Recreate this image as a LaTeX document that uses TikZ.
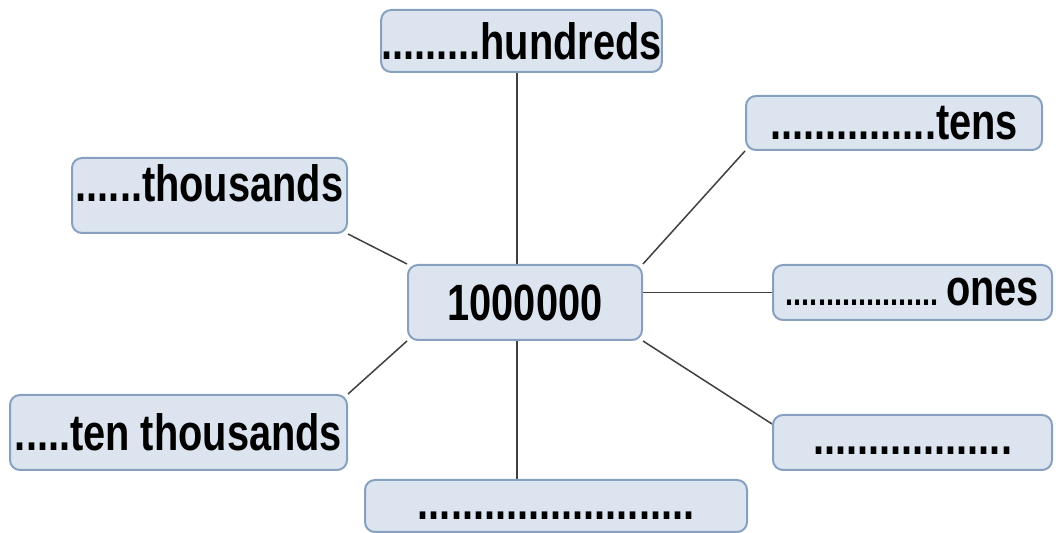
\documentclass[tikz,border=0pt]{standalone}
\usepackage{fontspec}
\setmainfont{Liberation Sans}[FakeStretch=0.78]
\usetikzlibrary{backgrounds}
\definecolor{boxfill}{RGB}{220,229,239}
\definecolor{boxline}{RGB}{135,160,192}
\definecolor{linkgrey}{RGB}{64,64,64}
\begin{document}
\begin{tikzpicture}[x=1pt,y=-1pt,
  box/.style={draw=boxline,fill=boxfill,line width=1pt,rounded corners=5pt,inner sep=0pt,
    font=\fontsize{25.5}{28}\selectfont\bfseries},
  link/.style={draw=linkgrey,line width=0.75pt}]
 \useasboundingbox (0,0) rectangle (528,266.5);
 \node[box,minimum width=117pt,minimum height=37.5pt] (ctr) at (262.5,151.25) {1000000};
 \node[box,minimum width=138.5pt,minimum height=31pt] (hund) at (260.75,20.5) {.........hundreds};
 \node[box,minimum width=148pt,minimum height=27pt] (tens) at (447,61.5) {...............tens};
 \node[box,minimum width=137.5pt,minimum height=37.5pt,text depth=12pt] (thou) at (104.75,97.75) {......thousands};
 \node[box,minimum width=139.5pt,minimum height=27.5pt] (ones) at (456.25,146.25)
   {{\fontsize{18.5}{20}\selectfont ...................}\hspace{4pt}ones};
 \node[box,minimum width=139.5pt,minimum height=27.5pt,text height=12pt] (blank) at (456.25,221.25) {..................};
 \node[box,minimum width=168.5pt,minimum height=37.5pt] (tenth) at (89.25,216.25) {.....ten thousands};
 \node[box,minimum width=191pt,minimum height=26pt,text height=14pt] (bot) at (278,253) {.........................};
 \begin{scope}[on background layer]
  \draw[link] ([xshift=-4pt]ctr.north) -- ([xshift=-4pt]ctr.north |- hund.south);
  \draw[link] (ctr.north east) -- (tens.south west);
  \draw[link] (ctr.north west) -- (thou.south east);
  \draw[link] (ones.west) -- (ones.west -| ctr.east);
  \draw[link] (ctr.south east) -- ([yshift=-5pt]blank.north west);
  \draw[link] (ctr.south west) -- (tenth.north east);
  \draw[link] ([xshift=-4pt]ctr.south) -- ([xshift=-4pt]ctr.south |- bot.north);
 \end{scope}
\end{tikzpicture}
\end{document}
